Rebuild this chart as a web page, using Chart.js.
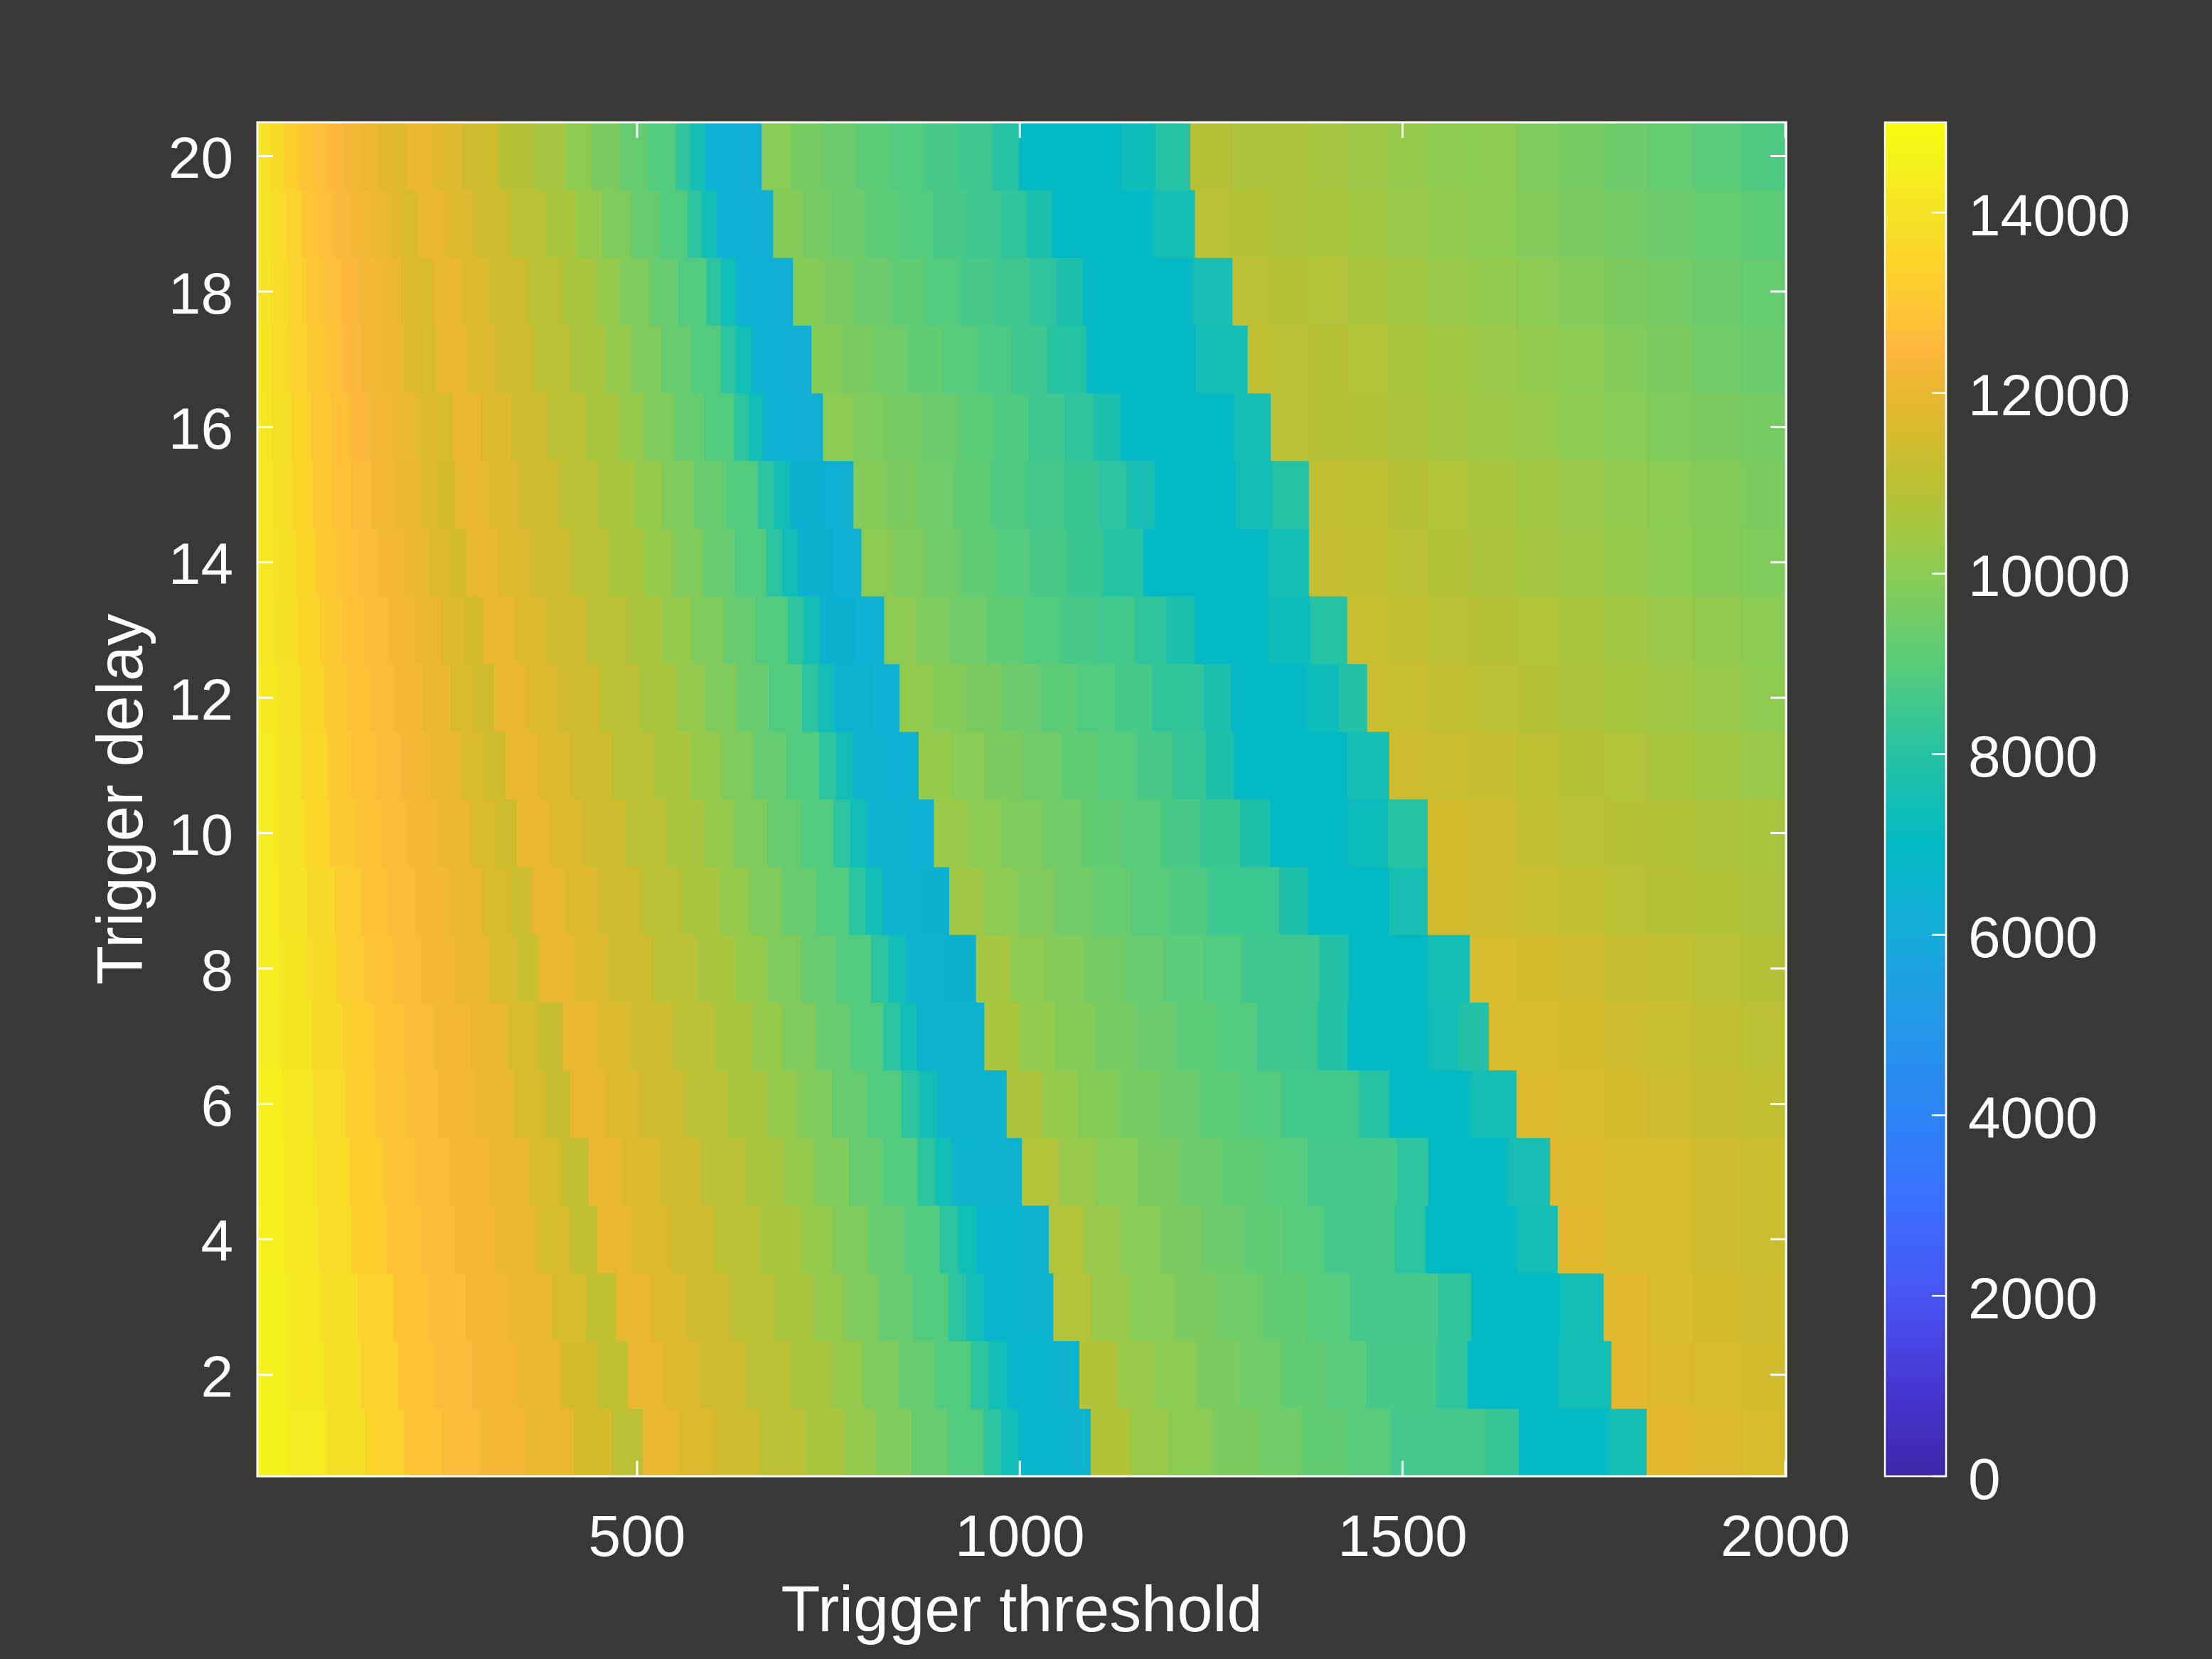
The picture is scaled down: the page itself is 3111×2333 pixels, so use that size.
<!DOCTYPE html>
<html>
<head>
<meta charset="utf-8">
<title>Trigger delay vs trigger threshold</title>
<script src="https://cdn.jsdelivr.net/npm/chart.js@4.4.1/dist/chart.umd.min.js"></script>
<style>
  html, body { margin: 0; padding: 0; background: #393836; }
  #wrap { width: 3111px; height: 2333px; }
</style>
</head>
<body>
<div id="wrap"><canvas id="heat" width="3111" height="2333"></canvas></div>
<script>
/* =========================================================
   Trigger threshold x trigger delay heat map (parula scale)
   ========================================================= */

// ---- axes ----
const delays = [1, 2, 3, 4, 5, 6, 7, 8, 9, 10, 11, 12, 13, 14, 15, 16, 17, 18, 19, 20];
const xTicks = [500, 1000, 1500, 2000];
const yTicks = [2, 4, 6, 8, 10, 12, 14, 16, 18, 20];
const cbTicks = [0, 2000, 4000, 6000, 8000, 10000, 12000, 14000];
const thresholdMin = 4;
const thresholdMax = 2001;
const colorMin = 0;
const colorMax = 15000;

// ---- rows: [threshold where a block starts, value] (block runs to the next start) ----
const row01 = [[4,14600],[44,14300],[95,13900],[145,13400],[196,12900],[246,12600],[296,12300],[357,12000],[417,11500],[468,11000],
  [508,12000],[555,11700],[602,11400],[660,11000],[719,10600],[771,10200],[812,9800],[859,9300],[906,8900],[953,8100],[976,7400],[999,6700],[1052,6600],
  [1093,10800],[1144,10300],[1195,10000],[1253,9700],[1311,9500],[1369,9200],[1427,9000],[1485,8600],[1608,8300],[1652,7000],[1768,7500],
  [1819,11850],[1879,11700],[1943,11600]];
const row02 = [[4,14550],[43,14250],[91,13850],[140,13350],[188,12900],[236,12600],[285,12300],[343,12000],[401,11500],[449,11050],
  [488,12000],[535,11700],[582,11400],[641,11000],[700,10600],[754,10200],[795,9800],[842,9300],[889,8900],[936,8100],[960,7400],[984,6700],[1037,6600],
  [1078,10800],[1127,10300],[1175,10000],[1231,9700],[1287,9450],[1342,9200],[1398,9000],[1453,8650],[1544,8200],[1585,7000],[1704,7400],
  [1773,11850],[1819,11700],[1879,11550],[1943,11450]];
const row03 = [[4,14550],[42,14250],[88,13850],[135,13350],[182,12900],[229,12600],[276,12300],[332,12000],[389,11550],[435,11050],
  [473,12000],[519,11700],[564,11400],[621,11000],[679,10600],[730,10200],[770,9800],[816,9300],[861,8900],[907,8100],[930,7400],[953,6650],[1004,6550],
  [1044,10750],[1094,10250],[1145,9950],[1202,9700],[1260,9450],[1317,9200],[1375,8950],[1432,8600],[1547,8200],[1590,7000],[1705,7500],
  [1763,11800],[1819,11650],[1879,11500],[1943,11400]];
const row04 = [[4,14500],[40,14200],[84,13800],[128,13300],[173,12850],[217,12600],[262,12300],[315,12000],[368,11550],[412,11100],
  [448,12000],[495,11700],[542,11400],[601,11000],[660,10600],[714,10200],[755,9800],[802,9300],[849,8900],[896,8100],[920,7400],[944,6650],[997,6550],
  [1038,10750],[1085,10250],[1131,9950],[1184,9650],[1238,9400],[1291,9150],[1344,8950],[1397,8600],[1490,8100],[1530,7000],[1650,7500],
  [1703,11800],[1764,11650],[1819,11550],[1879,11400],[1943,11300]];
const row05 = [[4,14450],[39,14150],[82,13750],[125,13300],[169,12850],[212,12600],[255,12300],[307,12000],[359,11550],[402,11150],
  [437,12000],[482,11700],[528,11400],[584,11000],[641,10600],[692,10200],[731,9800],[777,9300],[822,8900],[867,8100],[890,7400],[912,6600],[963,6500],
  [1003,10750],[1051,10250],[1100,9950],[1155,9650],[1210,9400],[1265,9150],[1320,8950],[1376,8600],[1493,8100],[1534,7000],[1638,7600],
  [1693,11750],[1764,11650],[1819,11550],[1879,11400],[1943,11300]];
const row06 = [[4,14450],[37,14150],[78,13750],[119,13250],[159,12850],[200,12550],[241,12300],[290,12050],[339,11600],[380,11200],
  [413,12000],[459,11700],[504,11400],[561,11000],[618,10600],[670,10200],[709,9800],[755,9300],[801,8900],[846,8100],[869,7400],[892,6600],[943,6500],
  [983,10650],[1030,10200],[1076,9900],[1130,9600],[1183,9350],[1236,9100],[1289,8900],[1343,8550],[1443,8000],[1483,7000],[1589,7500],
  [1649,11700],[1703,11600],[1764,11450],[1819,11350],[1879,11200],[1943,11100]];
const row07 = [[4,14400],[36,14100],[76,13700],[116,13250],[156,12850],[196,12550],[235,12300],[283,12050],[331,11600],[371,11200],
  [403,12000],[447,11700],[491,11400],[546,11000],[601,10600],[651,10200],[690,9800],[734,9300],[778,8900],[822,8100],[844,7400],[866,6600],[915,6500],
  [954,10600],[1000,10150],[1046,9900],[1099,9600],[1152,9350],[1204,9100],[1257,8900],[1310,8500],[1389,7900],[1428,7000],[1534,7400],[1573,7900],
  [1613,11600],[1649,11550],[1703,11450],[1764,11350],[1819,11250],[1879,11100],[1943,11000]];
const row08 = [[4,14400],[33,14100],[70,13700],[107,13200],[144,12850],[181,12550],[217,12300],[262,12050],[306,11600],[343,11250],
  [372,12000],[418,11700],[463,11400],[520,11000],[578,10600],[629,10200],[669,9800],[715,9300],[760,8900],[806,8100],[829,7400],[852,6550],[903,6450],
  [943,10500],[988,10100],[1033,9850],[1085,9550],[1137,9300],[1188,9050],[1240,8850],[1291,8500],[1391,7900],[1430,7000],[1533,7500],
  [1588,11550],[1649,11450],[1703,11350],[1764,11200],[1819,11100],[1879,10950],[1943,10850]];
const row09 = [[4,14350],[33,14050],[69,13650],[105,13200],[140,12800],[176,12550],[212,12300],[255,12050],[298,11650],[334,11300],
  [363,12000],[407,11700],[450,11400],[505,11000],[559,10600],[608,10200],[646,9800],[690,9300],[734,8900],[777,8100],[799,7400],[821,6550],[870,6450],
  [908,10400],[952,10050],[996,9800],[1046,9500],[1096,9250],[1146,9000],[1196,8800],[1246,8450],[1339,7800],[1377,7000],[1483,7600],
  [1533,11450],[1588,11350],[1649,11250],[1703,11150],[1764,11000],[1819,10900],[1879,10800],[1943,10700]];
const row10 = [[4,14300],[31,14000],[65,13600],[99,13150],[133,12800],[167,12550],[201,12300],[241,12050],[282,11650],[316,11350],
  [343,12000],[387,11700],[430,11400],[485,11000],[539,10600],[588,10200],[626,9800],[670,9300],[714,8900],[757,8100],[779,7400],[801,6500],[850,6400],
  [888,10300],[933,10000],[978,9750],[1030,9500],[1082,9200],[1133,9000],[1185,8700],[1236,8400],[1288,7800],[1327,6950],[1430,7250],[1481,8000],
  [1533,11450],[1588,11350],[1649,11100],[1703,11000],[1764,10900],[1819,10800],[1879,10700],[1943,10600]];
const row11 = [[4,14300],[30,14000],[62,13600],[95,13150],[127,12800],[160,12550],[192,12300],[231,12050],[270,11650],[302,11350],
  [328,12000],[371,11700],[414,11400],[468,11000],[522,10600],[571,10200],[609,9800],[652,9300],[695,8900],[738,8100],[760,7400],[782,6500],[830,6400],
  [868,10200],[911,9950],[954,9700],[1003,9450],[1053,9150],[1102,8950],[1151,8700],[1200,8300],[1243,7800],[1280,6950],[1428,7500],
  [1483,11400],[1533,11300],[1588,11200],[1649,11050],[1703,10900],[1764,10750],[1819,10600],[1879,10450],[1943,10300]];
const row12 = [[4,14250],[29,13950],[60,13550],[91,13100],[121,12800],[152,12550],[183,12300],[220,12050],[257,11650],[288,11400],
  [313,12000],[355,11700],[398,11400],[451,11000],[504,10600],[552,10200],[589,9800],[631,9300],[673,8900],[716,8100],[737,7400],[758,6500],[806,6400],
  [843,10150],[886,9900],[929,9650],[977,9400],[1026,9100],[1075,8900],[1124,8650],[1173,8250],[1240,7700],[1277,6950],[1375,7300],[1417,7900],
  [1454,11300],[1483,11250],[1533,11150],[1588,11000],[1649,10850],[1703,10700],[1764,10550],[1819,10400],[1879,10250],[1943,10100]];
const row13 = [[4,14200],[28,13900],[57,13500],[86,13100],[116,12750],[145,12550],[175,12300],[210,12050],[245,11700],[274,11450],
  [298,12000],[340,11700],[382,11400],[435,11000],[487,10600],[534,10200],[571,9800],[613,9300],[655,8900],[697,8100],[718,7400],[739,6450],[786,6350],
  [823,10100],[865,9750],[908,9450],[956,9150],[1005,8900],[1053,8700],[1101,8550],[1150,8200],[1192,7700],[1228,6950],[1325,7300],[1380,8000],
  [1428,11250],[1483,11150],[1533,11000],[1588,10900],[1649,10750],[1703,10600],[1764,10450],[1819,10300],[1879,10150],[1943,10000]];
const row14 = [[4,14200],[26,13900],[53,13500],[81,13050],[108,12750],[136,12550],[163,12300],[196,12050],[229,11700],[256,11500],
  [278,12000],[319,11700],[360,11400],[412,11000],[463,10600],[510,10200],[546,9800],[587,9300],[628,8900],[669,8100],[690,7400],[711,6450],[757,6350],
  [793,10000],[834,9750],[875,9500],[922,9200],[969,8900],[1015,8700],[1062,8400],[1109,8000],[1162,6950],[1325,7500],
  [1378,11200],[1429,11100],[1483,10950],[1533,10800],[1588,10650],[1649,10500],[1703,10350],[1764,10200],[1819,10050],[1879,9900],[1943,9800]];
const row15 = [[4,14150],[25,13850],[51,13450],[77,13050],[102,12750],[128,12550],[154,12300],[185,12050],[216,11700],[242,11500],
  [263,12000],[305,11700],[346,11400],[398,11000],[450,10600],[497,10200],[533,9800],[575,9300],[617,8900],[658,8100],[679,7400],[700,6450],[747,6350],
  [783,9900],[825,9700],[866,9450],[914,9150],[962,8800],[1009,8600],[1057,8400],[1104,8100],[1140,7600],[1176,6950],[1283,7500],[1330,8000],
  [1378,11150],[1429,11050],[1483,10900],[1533,10750],[1588,10600],[1649,10450],[1703,10300],[1764,10150],[1819,10000],[1879,9850],[1943,9700]];
const row16 = [[4,14150],[24,13850],[50,13450],[75,13000],[101,12750],[126,12500],[151,12300],[182,12100],[212,11750],[238,11550],
  [258,12000],[297,11700],[336,11400],[384,11000],[433,10600],[476,10200],[510,9800],[549,9300],[588,8900],[627,8100],[646,7400],[665,6400],[709,6300],
  [743,10000],[784,9750],[825,9550],[872,9350],[919,9100],[965,8800],[1012,8500],[1059,8200],[1097,7700],[1132,6950],[1281,7500],
  [1328,11000],[1378,10900],[1429,10800],[1483,10650],[1533,10500],[1588,10350],[1649,10250],[1703,10100],[1764,9950],[1819,9800],[1879,9700],[1943,9600]];
const row17 = [[4,14100],[23,13800],[46,13400],[70,13000],[93,12750],[116,12500],[140,12300],[168,12100],[196,11750],[219,11600],
  [238,12000],[277,11700],[316,11400],[365,11000],[414,10600],[459,10200],[493,9800],[532,9300],[571,8900],[610,8100],[630,7400],[650,6400],[694,6300],
  [728,9900],[768,9650],[808,9450],[853,9200],[899,8950],[945,8750],[990,8500],[1036,8000],[1087,6950],[1230,7500],
  [1298,11100],[1328,11000],[1378,10900],[1429,10750],[1483,10600],[1533,10450],[1588,10300],[1649,10150],[1703,10000],[1764,9850],[1819,9700],[1879,9500],[1943,9350]];
const row18 = [[4,14050],[22,13750],[45,13350],[68,12950],[91,12700],[114,12500],[137,12300],[165,12100],[193,11750],[216,11650],
  [234,12000],[272,11700],[309,11400],[356,11000],[403,10600],[446,10200],[478,9800],[516,9300],[554,8900],[591,8100],[610,7400],[629,6400],[671,6300],
  [704,9900],[744,9650],[784,9400],[830,9150],[876,8900],[922,8700],[968,8500],[1014,8200],[1048,7700],[1083,6950],[1226,7600],
  [1278,11000],[1328,10900],[1378,10750],[1429,10600],[1483,10450],[1533,10300],[1588,10150],[1649,10000],[1703,9850],[1764,9700],[1819,9550],[1879,9400],[1943,9250]];
const row19 = [[4,14050],[21,13750],[42,13350],[63,12950],[83,12700],[104,12500],[125,12300],[150,12100],[175,11800],[196,11650],
  [213,12000],[250,11700],[287,11400],[334,11000],[380,10600],[422,10200],[455,9800],[492,9300],[529,8900],[566,8100],[585,7400],[604,6400],[645,6300],
  [678,9900],[717,9600],[755,9400],[799,9100],[843,8900],[887,8700],[931,8500],[976,8200],[1009,7700],[1042,6950],[1174,7500],
  [1229,10950],[1277,10850],[1328,10700],[1378,10600],[1429,10450],[1483,10300],[1533,10150],[1588,10000],[1649,9850],[1703,9700],[1764,9550],[1819,9400],[1879,9250],[1943,9100]];
const row20 = [[4,14000],[20,13700],[39,13300],[58,12900],[78,12700],[97,12500],[117,12300],[140,12100],[163,11800],[182,11700],
  [198,12000],[235,11700],[272,11400],[319,10900],[365,10500],[407,10100],[440,9700],[477,9300],[514,8900],[551,8200],[570,7500],[589,6400],[630,6300],
  [663,9950],[702,9600],[741,9400],[786,9100],[831,8900],[876,8700],[921,8500],[965,8000],[999,7000],[1133,7300],[1178,8000],
  [1223,10900],[1277,10700],[1328,10650],[1378,10500],[1429,10350],[1483,10200],[1533,10100],[1588,10000],[1649,9800],[1703,9600],[1764,9400],[1819,9250],[1879,9050],[1943,8800]];

const rows = [row01, row02, row03, row04, row05, row06, row07, row08, row09, row10,
              row11, row12, row13, row14, row15, row16, row17, row18, row19, row20];

// ---- parula colour map (style) ----
const parulaAnchors = [
  [0, [62, 38, 168]], [1000, [70, 55, 210]], [2000, [73, 84, 242]], [3000, [58, 111, 254]],
  [4000, [45, 132, 245]], [5000, [36, 151, 232]], [6000, [22, 171, 218]], [7000, [3, 185, 196]],
  [8000, [38, 194, 164]], [9000, [88, 204, 122]], [10000, [138, 203, 84]], [10500, [165, 199, 65]],
  [11000, [188, 192, 52]], [11500, [212, 187, 44]], [12000, [233, 183, 48]], [12500, [252, 184, 60]],
  [13000, [254, 199, 52]], [13500, [250, 213, 42]], [14000, [245, 227, 38]], [14500, [245, 240, 30]],
  [15000, [249, 251, 14]]
];

function parula(v) {
  const val = Math.min(Math.max(v, colorMin), colorMax);
  for (let i = 1; i < parulaAnchors.length; i++) {
    const [v1, c1] = parulaAnchors[i];
    if (val <= v1) {
      const [v0, c0] = parulaAnchors[i - 1];
      const t = (val - v0) / (v1 - v0);
      const c = c0.map((ch, k) => Math.round(ch + (c1[k] - ch) * t));
      return `rgb(${c[0]},${c[1]},${c[2]})`;
    }
  }
  return 'rgb(249,251,14)';
}

// ---- build the floating bars (one bar per block) ----
const cells = [];
rows.forEach((blocks, r) => {
  blocks.forEach(([x0, v], i) => {
    const x1 = i + 1 < blocks.length ? blocks[i + 1][0] : thresholdMax;
    cells.push({ x: [x0, x1], y: delays[r], v });
  });
});

const FONT = 'Liberation Sans, Arial, Helvetica, sans-serif';
const WHITE = '#ffffff';
const TICK_LEN = 22;
const plain = v => String(v);

// box, inward ticks and the colour bar
const framePlugin = {
  id: 'frame',
  afterDraw(chart) {
    const { ctx, chartArea: a, scales } = chart;
    ctx.save();
    ctx.strokeStyle = WHITE;

    ctx.lineWidth = 3;
    ctx.beginPath();
    xTicks.forEach(v => {
      const px = scales.x.getPixelForValue(v);
      ctx.moveTo(px, a.bottom); ctx.lineTo(px, a.bottom - TICK_LEN);
      ctx.moveTo(px, a.top); ctx.lineTo(px, a.top + TICK_LEN);
    });
    yTicks.forEach(v => {
      const py = scales.y.getPixelForValue(v);
      ctx.moveTo(a.left, py); ctx.lineTo(a.left + TICK_LEN, py);
      ctx.moveTo(a.right, py); ctx.lineTo(a.right - TICK_LEN, py);
    });
    ctx.stroke();
    ctx.strokeRect(a.left, a.top, a.right - a.left, a.bottom - a.top);

    // colour bar, same height as the plot box
    const cb = scales.cb;
    const barX = a.right + 139;
    const barW = 86;
    const yTop = cb.getPixelForValue(colorMax);
    const yBot = cb.getPixelForValue(colorMin);
    const grad = ctx.createLinearGradient(0, yBot, 0, yTop);
    parulaAnchors.forEach(([v, c]) => grad.addColorStop(v / colorMax, `rgb(${c[0]},${c[1]},${c[2]})`));
    ctx.fillStyle = grad;
    ctx.fillRect(barX, yTop, barW, yBot - yTop);
    ctx.lineWidth = 2.5;
    ctx.strokeRect(barX, yTop, barW, yBot - yTop);
    ctx.beginPath();
    cbTicks.forEach(v => {
      const py = cb.getPixelForValue(v);
      ctx.moveTo(barX + barW, py); ctx.lineTo(barX + barW - 20, py);
    });
    ctx.stroke();
    ctx.restore();
  }
};

new Chart(document.getElementById('heat'), {
  type: 'bar',
  data: {
    datasets: [{
      data: cells,
      xAxisID: 'x',
      yAxisID: 'y',
      backgroundColor: c => parula(c.raw ? c.raw.v : 0),
      borderWidth: 0,
      barPercentage: 1,
      categoryPercentage: 1
    }]
  },
  options: {
    indexAxis: 'y',
    responsive: false,
    animation: false,
    events: [],
    layout: { padding: { top: 172, left: 0, right: 0, bottom: 0 } },
    plugins: { legend: { display: false }, tooltip: { enabled: false } },
    scales: {
      x: {
        type: 'linear', position: 'bottom',
        min: thresholdMin, max: thresholdMax, beginAtZero: false, offset: false,
        grid: { display: false, drawTicks: false }, border: { display: false },
        afterBuildTicks: s => { s.ticks = xTicks.map(v => ({ value: v })); },
        afterFit: s => { s.height = 257; },
        ticks: { color: WHITE, font: { family: FONT, size: 82 }, padding: 40, maxRotation: 0, autoSkip: false, callback: plain },
        title: { display: true, text: 'Trigger threshold', color: WHITE,
                 font: { family: FONT, size: 90 }, padding: { top: 0, bottom: 10 } }
      },
      y: {
        type: 'linear', position: 'left',
        min: 0.5, max: 20.5, offset: false,
        grid: { display: false, drawTicks: false, offset: false }, border: { display: false },
        afterBuildTicks: s => { s.ticks = yTicks.map(v => ({ value: v })); },
        afterFit: s => { s.width = 362; },
        ticks: { color: WHITE, font: { family: FONT, size: 82 }, padding: 34, labelOffset: 8, autoSkip: false, callback: plain },
        title: { display: true, text: 'Trigger delay', color: WHITE,
                 font: { family: FONT, size: 90 }, padding: { top: 121, bottom: 0 } }
      },
      cb: {
        type: 'linear', position: 'right',
        min: colorMin, max: colorMax, offset: false,
        // the long (hidden) tick length pushes the labels past the colour bar
        grid: { display: false, drawTicks: true, tickLength: 248, offset: false }, border: { display: false },
        afterBuildTicks: s => { s.ticks = cbTicks.map(v => ({ value: v })); },
        afterFit: s => { s.width = 599; },
        ticks: { color: WHITE, font: { family: FONT, size: 82 }, padding: 8, labelOffset: 9, autoSkip: false, callback: plain }
      }
    }
  },
  plugins: [framePlugin]
});
</script>
</body>
</html>
